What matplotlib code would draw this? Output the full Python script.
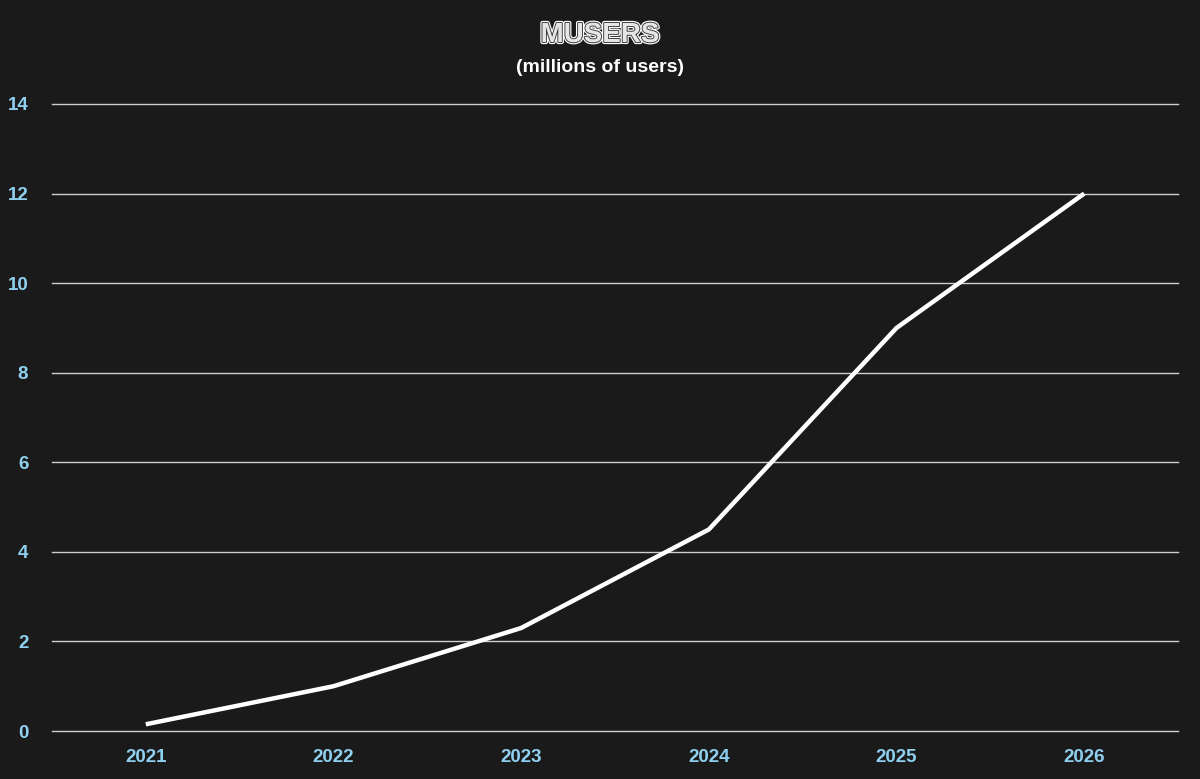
import matplotlib
matplotlib.use("Agg")
import matplotlib.pyplot as plt
import matplotlib.patheffects as pe

# datos
years = ["2021", "2022", "2023", "2024", "2025", "2026"]
users = [0.15, 1.0, 2.3, 4.5, 9.0, 12.0]
yticks = [0, 2, 4, 6, 8, 10, 12, 14]

bg = "#1a1a1a"
tick_col = "#8fd0f0"

plt.rcParams['font.family'] = ['Liberation Sans', 'DejaVu Sans']

fig = plt.figure(figsize=(12, 7.79), dpi=100, facecolor=bg)
ax = fig.add_axes([0.0433, 0.0616, 0.9384, 0.8049], facecolor=bg)

x = range(len(years))
ax.plot(x, users, color="white", lw=3.2, solid_capstyle="butt", zorder=3)

ax.set_xlim(-0.5, 5.5)
ax.set_ylim(0, 14)
ax.set_xticks(list(x))
ax.set_xticklabels(years)
ax.set_yticks(yticks)
ax.grid(axis="y", color="#cfcfcf", lw=1.0)
for gl in ax.get_ygridlines():
    gl.set_clip_on(False)
ax.set_axisbelow(True)
for s in ax.spines.values():
    s.set_visible(False)
ax.tick_params(length=0, colors=tick_col, labelsize=13.5)
ax.tick_params(axis="x", pad=13)
ax.tick_params(axis="y", pad=17)
for lab in ax.get_xticklabels() + ax.get_yticklabels():
    lab.set_fontweight("bold")

# titulo con contorno
fig.text(0.5, 0.955, "MUSERS", ha="center", va="center", fontsize=20,
         color="#e6e6e6", fontweight="bold",
         path_effects=[pe.Stroke(linewidth=3, foreground="white"),
                       pe.Stroke(linewidth=1.3, foreground="#333333"),
                       pe.Normal()])
fig.text(0.5, 0.913, "(millions of users)", ha="center", va="center",
         fontsize=14, color="white", fontweight="bold")

fig.savefig("out.png", dpi=100, facecolor=bg)
